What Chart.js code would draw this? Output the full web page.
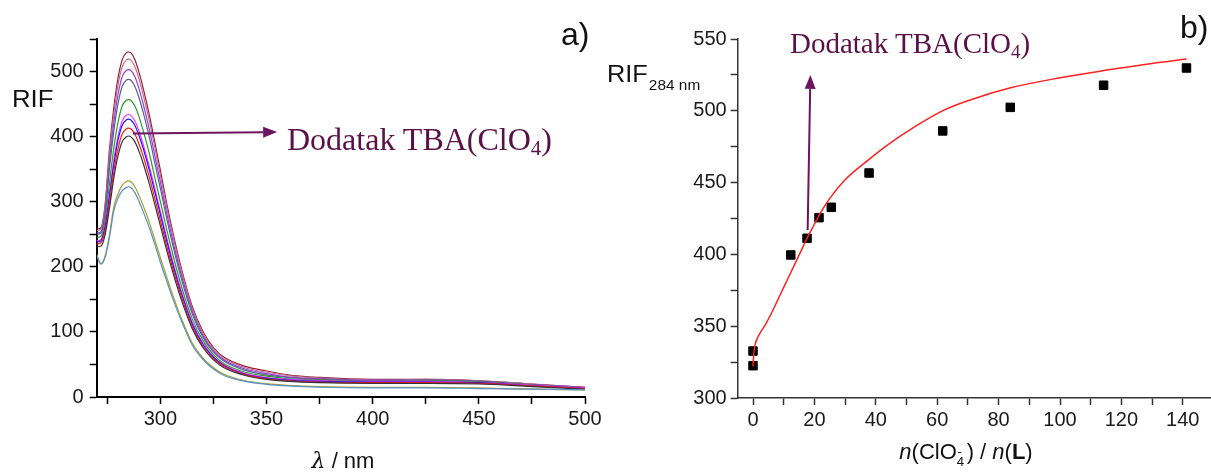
<!DOCTYPE html>
<html>
<head>
<meta charset="utf-8">
<script src="https://cdn.jsdelivr.net/npm/chart.js@4.4.1/dist/chart.umd.min.js"></script>
<style>
  html, body { margin: 0; padding: 0; background: #fff; overflow: hidden; }
  #page { position: relative; width: 1211px; height: 472px; overflow: hidden; }
  canvas { position: absolute; top: 0; }
  #leftChart { left: 0; }
  #rightChart { left: 600px; }
  .lbl { position: absolute; white-space: nowrap; line-height: 1; font-family: 'Liberation Sans', Arial, sans-serif; color: #111; }
  .serif { font-family: 'Liberation Serif', 'Times New Roman', serif; color: #5a1048; }
  .serif sub { font-size: 0.65em; vertical-align: -0.25em; line-height: 0; }
</style>
</head>
<body>
<div id="page">
  <canvas id="leftChart" width="640" height="472"></canvas>
  <canvas id="rightChart" width="640" height="472"></canvas>

  <div class="lbl" style="left:561px; top:18px; font-size:32px;">a)</div>
  <div class="lbl" style="left:1180px; top:11px; font-size:32px;">b)</div>
  <div class="lbl" style="left:12px; top:88px; font-size:23px; transform:scaleX(1.12); transform-origin:left;">RIF</div>
  <div class="lbl" style="left:607px; top:63px; font-size:23px; transform:scaleX(1.1); transform-origin:left;">RIF<span style="font-size:14px; position:relative; top:8px; margin-left:1px;">284 nm</span></div>
  <div class="lbl" style="left:343px; top:450px; font-size:22px; transform:translateX(-50%);"><i style="font-family:'DejaVu Serif',serif;">&lambda;</i> / nm</div>
  <div class="lbl" style="left:966px; top:441px; font-size:22px; transform:translateX(-50%);"><i>n</i>(ClO<span style="position:relative; display:inline-block; width:0.45em; height:0;"><span style="position:absolute; left:0; top:-0.3em; font-size:0.6em;">4</span><span style="position:absolute; left:0.05em; top:-1.05em; font-size:0.6em;">-</span></span>) / <i>n</i>(<b>L</b>)</div>

  <div class="lbl serif" style="left:287px; top:123px; font-size:32px;">Dodatak TBA(ClO<sub>4</sub>)</div>
  <div class="lbl serif" style="left:790px; top:29px; font-size:29px;">Dodatak TBA(ClO<sub>4</sub>)</div>
</div>

<script>
// ---- a) emission spectra ----
const wavelengths = [270, 272, 274, 276, 278, 280, 282, 284, 285, 286, 288, 290, 292, 295, 298, 300, 303, 306, 310, 315, 320, 325, 330, 340, 350, 360, 375, 400, 425, 450, 475, 500];

const rifSteel  = [217, 204, 215, 245, 285, 305, 317, 322, 323, 322, 314, 300, 284, 258, 228, 207, 178, 150, 116, 80, 58, 43, 33, 24, 19.5, 17, 15, 14, 14, 13, 12, 11];
const rifOlive  = [219, 205, 217, 249, 291, 312, 325, 331, 332, 331, 323, 309, 293, 266, 235, 214, 184, 155, 120, 83, 60, 45, 35, 25, 20.5, 18, 16, 15, 15, 14, 12, 11];
const rifBlack  = [231, 232, 250, 290, 335, 370, 392, 400, 401, 400, 392, 377, 358, 325, 288, 263, 225, 190, 148, 105, 76, 57, 45, 33, 27, 24, 22, 21, 21, 20, 16, 12];
const rifRed    = [235, 237, 256, 298, 345, 381, 404, 412, 413, 412, 404, 388, 369, 335, 297, 271, 232, 196, 153, 108, 78, 59, 47, 34, 28, 25, 23, 22, 22, 21, 17, 13];
const rifBlue   = [238, 240, 262, 308, 356, 394, 417, 426, 427, 426, 417, 401, 381, 346, 307, 280, 240, 202, 158, 112, 81, 61, 48, 35, 29, 26, 24, 23, 23, 22, 17, 13];
const rifPink   = [240, 242, 265, 313, 362, 400, 424, 433, 434, 433, 424, 408, 387, 352, 312, 285, 244, 206, 161, 114, 83, 62, 49, 36, 30, 27, 25, 24, 24, 22, 18, 14];
const rifGreen  = [245, 247, 272, 328, 381, 421, 447, 456, 457, 456, 447, 430, 408, 371, 328, 300, 257, 217, 169, 120, 87, 65, 51, 38, 32, 28, 26, 24, 25, 23, 18, 14];
const rifSlate  = [250, 252, 282, 350, 407, 450, 477, 487, 488, 487, 477, 459, 436, 396, 350, 320, 274, 231, 180, 128, 92, 69, 55, 41, 34, 30, 27, 25, 26, 24, 19, 14];
const rifViolet = [252, 254, 287, 360, 420, 464, 492, 502, 503, 502, 492, 473, 449, 408, 361, 330, 282, 238, 186, 132, 95, 71, 57, 43, 36, 31, 28, 26, 26, 24, 19, 15];
const rifMauve  = [256, 258, 293, 372, 433, 479, 507, 518, 519, 518, 507, 488, 463, 421, 373, 340, 291, 246, 192, 136, 98, 74, 59, 45, 38, 33, 29, 26, 27, 25, 20, 15];
const rifWine   = [258, 260, 297, 380, 443, 489, 518, 529, 530, 529, 518, 498, 473, 430, 381, 348, 297, 251, 196, 139, 101, 76, 61, 47, 40, 34, 30, 27, 27, 25, 20, 15];

const spectra = [rifSteel, rifOlive, rifBlack, rifRed, rifBlue, rifPink, rifGreen, rifSlate, rifViolet, rifMauve, rifWine];
const spectrumColors = ['#5b8fc8', '#a3a032', '#333333', '#ff1a1a', '#1a1aff', '#ff33ff', '#2a9a2a', '#55608f', '#9440e0', '#c07090', '#9b1b30'];

const leftXTicks = [275, 300, 325, 350, 375, 400, 425, 450, 475, 500];
const leftXLabels = [300, 350, 400, 450, 500];
const leftYTicks = [0, 50, 100, 150, 200, 250, 300, 350, 400, 450, 500, 550];
const leftYLabels = [0, 100, 200, 300, 400, 500];

// ---- b) titration at 284 nm ----
const ratioX   = [0, 0, 12.3, 17.6, 21.5, 25.5, 37.8, 61.8, 83.8, 114.2, 141.2];
const rifAt284 = [322.5, 332.7, 399.6, 411.2, 425.6, 432.8, 456.7, 486, 502.4, 517.8, 529.8];

const fitX = [0, 0.3, 0.8, 1.5, 2.5, 4, 6, 8, 10, 12, 14, 16, 18, 20, 22, 25, 30, 37.7, 45, 52, 61.7, 70, 83.9, 100, 114.2, 130, 141.2];
const fitY = [322, 332, 338, 342, 346, 351, 359, 368, 377, 386, 395, 404, 413, 421, 429, 439, 452, 466, 478, 488, 500, 507, 516, 523, 528, 533, 536];

const rightXTicks = [0, 10, 20, 30, 40, 50, 60, 70, 80, 90, 100, 110, 120, 130, 140, 150];
const rightXLabels = [0, 20, 40, 60, 80, 100, 120, 140];
const rightYTicks = [300, 325, 350, 375, 400, 425, 450, 475, 500, 525, 550];
const rightYLabels = [300, 350, 400, 450, 500, 550];

// arrows (data coordinates)
const leftArrow = [[287, 405], [355, 407]];
const rightArrow = [[17.8, 417], [18.7, 525]];

const arrowPlugin = {
  id: 'arrow',
  afterDatasetsDraw(chart, args, opts) {
    const { ctx, scales } = chart;
    const x1 = scales.x.getPixelForValue(opts.from[0]);
    const y1 = scales.y.getPixelForValue(opts.from[1]);
    const x2 = scales.x.getPixelForValue(opts.to[0]);
    const y2 = scales.y.getPixelForValue(opts.to[1]);
    const ang = Math.atan2(y2 - y1, x2 - x1);
    const head = 14, half = 5.5;
    const bx = x2 - head * Math.cos(ang), by = y2 - head * Math.sin(ang);
    ctx.save();
    ctx.strokeStyle = opts.color;
    ctx.fillStyle = opts.color;
    ctx.lineWidth = 2;
    ctx.beginPath();
    ctx.moveTo(x1, y1);
    ctx.lineTo(bx, by);
    ctx.stroke();
    ctx.beginPath();
    ctx.moveTo(x2, y2);
    ctx.lineTo(bx + half * Math.sin(ang), by - half * Math.cos(ang));
    ctx.lineTo(bx - half * Math.sin(ang), by + half * Math.cos(ang));
    ctx.closePath();
    ctx.fill();
    ctx.restore();
  }
};

const tickFont = { family: "'Liberation Sans', Arial, sans-serif", size: 20 };

function axis(min, max, ticks, labels, boxSize, isX, borderWidth, borderColor, tickPad) {
  return {
    type: 'linear',
    min: min,
    max: max,
    afterBuildTicks: (scale) => { scale.ticks = ticks.map(v => ({ value: v })); },
    afterFit: (scale) => { if (isX) scale.height = boxSize; else scale.width = boxSize; },
    grid: { drawOnChartArea: false, drawTicks: true, tickLength: 7, tickColor: borderColor, tickWidth: 1.5 },
    border: { display: true, color: borderColor, width: borderWidth },
    ticks: {
      autoSkip: false,
      maxRotation: 0,
      padding: tickPad,
      color: '#1a1a1a',
      font: tickFont,
      callback: (v) => labels.includes(v) ? String(v) : ''
    }
  };
}

new Chart(document.getElementById('leftChart'), {
  type: 'line',
  data: {
    datasets: spectra.map((arr, i) => ({
      data: wavelengths.map((w, j) => ({ x: w, y: arr[j] })),
      borderColor: spectrumColors[i],
      borderWidth: 1.2,
      pointRadius: 0,
      fill: false,
      cubicInterpolationMode: 'monotone'
    }))
  },
  options: {
    responsive: false,
    animation: false,
    layout: { padding: { left: 0, top: 39, right: 55, bottom: 0 } },
    plugins: {
      legend: { display: false },
      tooltip: { enabled: false },
      arrow: { from: leftArrow[0], to: leftArrow[1], color: '#6d1460' }
    },
    scales: {
      x: axis(270, 500, leftXTicks, leftXLabels, 75, true, 2, '#000', 3),
      y: axis(0, 550, leftYTicks, leftYLabels, 96.7, false, 2, '#000', 6)
    }
  },
  plugins: [arrowPlugin]
});

new Chart(document.getElementById('rightChart'), {
  type: 'scatter',
  data: {
    datasets: [
      {
        data: fitX.map((x, i) => ({ x: x, y: fitY[i] })),
        showLine: true,
        borderColor: '#ff2020',
        borderWidth: 1.5,
        pointRadius: 0,
        cubicInterpolationMode: 'monotone'
      },
      {
        data: ratioX.map((x, i) => ({ x: x, y: rifAt284[i] })),
        showLine: false,
        pointStyle: 'rect',
        pointRadius: 6,
        backgroundColor: '#000',
        borderColor: '#000',
        borderWidth: 1
      }
    ]
  },
  options: {
    responsive: false,
    animation: false,
    layout: { padding: { left: 0, top: 39, right: 26.5, bottom: 0 } },
    plugins: {
      legend: { display: false },
      tooltip: { enabled: false },
      arrow: { from: rightArrow[0], to: rightArrow[1], color: '#6d1460' }
    },
    scales: {
      x: axis(-5, 150, rightXTicks, rightXLabels, 74, true, 1.5, '#333', 3),
      y: axis(300, 550, rightYTicks, rightYLabels, 137.65, false, 1.5, '#333', 4)
    }
  },
  plugins: [arrowPlugin]
});
</script>
</body>
</html>
